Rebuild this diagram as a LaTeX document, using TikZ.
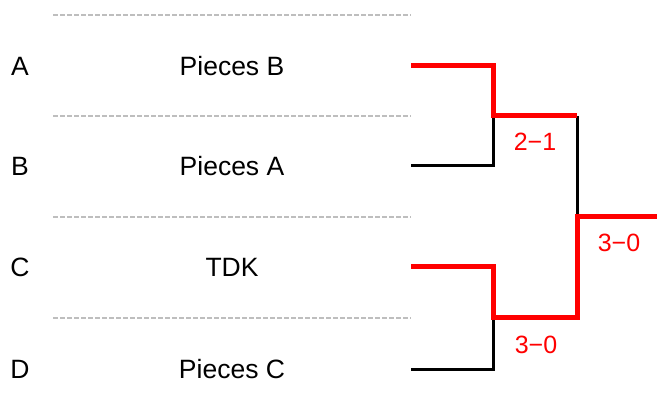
\documentclass[tikz,border=0pt]{standalone}
\usepackage{fontspec}
\setmainfont{Liberation Sans}
\begin{document}
\begin{tikzpicture}[x=1pt,y=-1pt,
  sep/.style={draw={rgb,255:red,190;green,190;blue,190},line width=2.6pt,dash pattern=on 5pt off 2pt},
  win/.style={draw=red,line width=5pt,miter limit=10},
  lose/.style={draw=black,line width=3pt},
  lbl/.style={inner sep=0pt,anchor=base,font=\fontsize{26.5}{30}\selectfont},
  score/.style={inner sep=0pt,anchor=base,text=red,font=\fontsize{25}{30}\selectfont}]
\useasboundingbox (0,0) rectangle (657,417);
% separators
\coordinate (s1a) at (53,15);  \coordinate (s1b) at (411,15);
\coordinate (s2a) at (53,116); \coordinate (s2b) at (411,116);
\coordinate (s3a) at (53,217); \coordinate (s3b) at (411,217);
\coordinate (s4a) at (53,318); \coordinate (s4b) at (411,318);
\draw[sep] (s1a) -- (s1b);
\draw[sep] (s2a) -- (s2b);
\draw[sep] (s3a) -- (s3b);
\draw[sep] (s4a) -- (s4b);
% letters and teams
\node[lbl] (la) at (20,75.5) {A};
\node[lbl] (lb) at (20,175.5) {B};
\node[lbl] (lc) at (20,276.5) {C};
\node[lbl] (ld) at (20,378.5) {D};
\node[lbl] (ta) at (232,75.5) {Pieces B};
\node[lbl] (tb) at (232,175.5) {Pieces A};
\node[lbl] (tc) at (232,276.5) {TDK};
\node[lbl] (td) at (232,378.5) {Pieces C};
% bracket points
\coordinate (e1) at (411,66);
\coordinate (e2) at (411,166);
\coordinate (e3) at (411,267);
\coordinate (e4) at (411,369);
\coordinate (m1) at (493,116);
\coordinate (m2) at (493,318);
\coordinate (f1) at (577,116);
\coordinate (f2) at (577,318);
\coordinate (fm) at (577,217);
\coordinate (ch) at (657,217);
\draw[lose] (e2) -| (m1);
\draw[lose] (e4) -| (m2);
\draw[lose] (f1) -- (fm);
\draw[win] (e1) -| (m1) -- (f1);
\draw[win] (e3) -| (m2) -- (f2) -- (fm) -- (ch);
% scores
\node[score] (r1) at (535,150.5) {2−1};
\node[score] (r2) at (536,353) {3−0};
\node[score] (r3) at (619,252) {3−0};
\end{tikzpicture}
\end{document}
